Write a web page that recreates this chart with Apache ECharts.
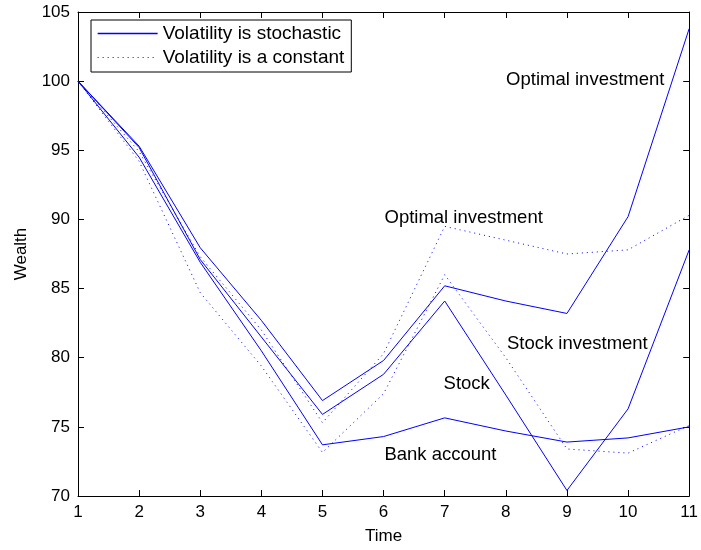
<!DOCTYPE html>
<html>
<head>
<meta charset="utf-8">
<script src="https://cdn.jsdelivr.net/npm/echarts@6/dist/echarts.min.js"></script>
<style>
  html, body { margin: 0; padding: 0; background: #fff; }
  #chart { width: 701px; height: 550px; }
</style>
</head>
<body>
<div id="chart"></div>
<script>
// time steps
const times = [1, 2, 3, 4, 5, 6, 7, 8, 9, 10, 11];

// volatility is stochastic (solid)
const optimalStoch = [100, 95.3, 87.95, 82.7, 76.9, 79.8, 85.2, 84.1, 83.2, 90.2, 103.8];
const stockPrice = [100, 95.2, 87.1, 81.5, 75.9, 78.8, 84.1, 77.3, 70.4, 76.3, 87.8];
const bankAccount = [100, 94.5, 86.9, 80.5, 73.7, 74.3, 75.65, 74.7, 73.9, 74.2, 75.0];

// volatility is a constant (dotted)
const optimalConst = [100, 94.9, 87.3, 82.0, 75.3, 80.3, 89.5, 88.5, 87.5, 87.8, 90.3];
const stockInvConst = [100, 94.2, 84.7, 79.4, 73.15, 77.4, 86.0, 80.0, 73.4, 73.1, 75.1];

// text annotations, in data units
const notes = [
  { text: 'Optimal investment', x: 9.3, y: 100.1 },
  { text: 'Optimal investment', x: 7.31, y: 90.13 },
  { text: 'Stock investment', x: 9.17, y: 80.97 },
  { text: 'Stock', x: 7.36, y: 78.08 },
  { text: 'Bank account', x: 6.93, y: 72.96 }
];

const xTicks = [1, 11, 1];
const yTicks = [70, 105, 5];

const SOLID = 'Volatility is stochastic';
const DOTTED = 'Volatility is a constant';
const blue = '#0000ff';
const font = 'Liberation Sans, Arial, Helvetica, sans-serif';

const pairs = (ys) => times.map((t, i) => [t, ys[i]]);

function lineSeries(name, ys, type) {
  return {
    name: name,
    type: 'line',
    data: pairs(ys),
    symbol: 'none',
    silent: true,
    animation: false,
    color: blue,
    itemStyle: { color: blue },
    lineStyle: { color: blue, width: 1, type: type }
  };
}

const chart = echarts.init(document.getElementById('chart'), null, { renderer: 'canvas' });

const axisCommon = {
  type: 'value',
  axisLine: { show: true, onZero: false, lineStyle: { color: '#000', width: 1 } },
  axisTick: { show: true, inside: true, length: 6, lineStyle: { color: '#000' } },
  splitLine: { show: false },
  nameTextStyle: { color: '#000', fontSize: 17, fontFamily: font },
  axisLabel: { color: '#000', fontSize: 17, fontFamily: font }
};

const hiddenMarker = { color: 'rgba(0,0,0,0)', borderWidth: 0 };

const option = {
  backgroundColor: '#fff',
  animation: false,
  grid: { left: 78, right: 7, top: 12, bottom: 53, containLabel: false },
  legend: {
    data: [
      { name: SOLID, itemStyle: hiddenMarker, lineStyle: { color: blue, width: 1.3, type: 'solid' } },
      { name: DOTTED, itemStyle: hiddenMarker, lineStyle: { color: blue, width: 1, type: [1, 4] } }
    ],
    orient: 'vertical',
    left: 91,
    top: 20,
    padding: [4, 7, 5, 6],
    itemWidth: 60,
    itemHeight: 10,
    itemGap: 5,
    borderColor: '#000',
    borderWidth: 1,
    borderRadius: 0,
    backgroundColor: '#fff',
    selectedMode: false,
    textStyle: { color: '#000', fontSize: 19, fontFamily: font }
  },
  xAxis: [
    Object.assign({}, axisCommon, {
      min: xTicks[0], max: xTicks[1], interval: xTicks[2],
      name: 'Time', nameLocation: 'middle', nameGap: 32,
      axisLabel: Object.assign({}, axisCommon.axisLabel, { margin: 8 })
    }),
    Object.assign({}, axisCommon, {
      position: 'top',
      min: xTicks[0], max: xTicks[1], interval: xTicks[2],
      axisLabel: { show: false }
    })
  ],
  yAxis: [
    Object.assign({}, axisCommon, {
      min: yTicks[0], max: yTicks[1], interval: yTicks[2],
      name: 'Wealth', nameLocation: 'middle', nameGap: 48,
      axisLabel: Object.assign({}, axisCommon.axisLabel, { margin: 8 })
    }),
    Object.assign({}, axisCommon, {
      position: 'right',
      min: yTicks[0], max: yTicks[1], interval: yTicks[2],
      axisLabel: { show: false }
    })
  ],
  series: [
    lineSeries(SOLID, optimalStoch, 'solid'),
    lineSeries(SOLID, stockPrice, 'solid'),
    lineSeries(SOLID, bankAccount, 'solid'),
    lineSeries(DOTTED, optimalConst, [1, 4]),
    lineSeries(DOTTED, stockInvConst, [1, 4])
  ]
};

chart.setOption(option);

// place the annotation texts through the axes' own scale
chart.setOption({
  graphic: notes.map(n => {
    const p = chart.convertToPixel({ gridIndex: 0 }, [n.x, n.y]);
    return {
      type: 'text',
      x: p[0],
      y: p[1],
      silent: true,
      style: {
        text: n.text,
        fill: '#000',
        font: '18.5px ' + font,
        align: 'center',
        verticalAlign: 'middle'
      }
    };
  })
});
</script>
</body>
</html>
